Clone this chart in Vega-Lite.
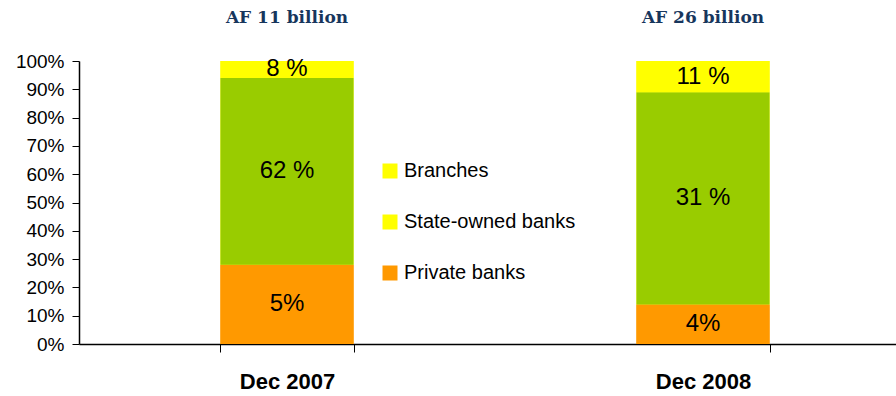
{
  "$schema": "https://vega.github.io/schema/vega-lite/v6.json",
  "width": 832,
  "height": 283,
  "autosize": {"type": "none"},
  "padding": {"left": 79, "top": 61, "right": 0, "bottom": 52},
  "background": "white",
  "config": {
    "view": {"stroke": null},
    "font": "Liberation Sans",
    "axis": {"labelOverlap": false, "labelBound": false},
    "axisY": {
      "title": null,
      "labelOverlap": false,
      "labelFontSize": 19,
      "labelColor": "black",
      "grid": false,
      "tickSize": 7,
      "tickColor": "black",
      "domainColor": "black",
      "domainWidth": 1.5,
      "labelPadding": 8
    }
  },
  "datasets": {
    "shares": [
      {"date": "Dec 2007", "sector": "Private banks", "share": 28, "label": "5%", "ord": 1},
      {"date": "Dec 2007", "sector": "State-owned banks", "share": 66, "label": "62  %", "ord": 2},
      {"date": "Dec 2007", "sector": "Branches", "share": 6, "label": "8 %", "ord": 3},
      {"date": "Dec 2008", "sector": "Private banks", "share": 14, "label": "4%", "ord": 1},
      {"date": "Dec 2008", "sector": "State-owned banks", "share": 75, "label": "31 %", "ord": 2},
      {"date": "Dec 2008", "sector": "Branches", "share": 11, "label": "11  %", "ord": 3}
    ],
    "totals": [
      {"date": "Dec 2007", "total": "AF 11 billion"},
      {"date": "Dec 2008", "total": "AF 26 billion"}
    ]
  },
  "encoding": {
    "x": {
      "field": "date",
      "type": "nominal",
      "scale": {"paddingInner": 0.68, "paddingOuter": 0.34},
      "axis": {
        "title": null,
        "labelAngle": 0,
        "labelFontSize": 22,
        "labelFontWeight": "bold",
        "labelColor": "black",
        "labelPadding": 19,
        "tickBand": "extent",
        "tickSize": 8,
        "tickColor": "black",
        "domainColor": "black",
        "domainWidth": 1.5
      }
    }
  },
  "layer": [
    {
      "data": {"name": "shares"},
      "mark": {"type": "bar"},
      "encoding": {
        "y": {
          "field": "share",
          "type": "quantitative",
          "stack": "zero",
          "scale": {"domain": [0, 100]},
          "axis": {"values": [0, 10, 20, 30, 40, 50, 60, 70, 80, 90, 100], "labelExpr": "datum.value + '%'", "labelOverlap": false, "title": null}
        },
        "fill": {
          "field": "sector",
          "type": "nominal",
          "scale": {
            "domain": ["Branches", "State-owned banks", "Private banks"],
            "range": ["#FFFF00", "#FFFF00", "#FF9900"]
          },
          "legend": {
            "title": null,
            "orient": "none",
            "legendX": 301,
            "legendY": 100,
            "labelFontSize": 20,
            "labelColor": "black",
            "labelLimit": 0,
            "symbolType": "square",
            "symbolSize": 225,
            "symbolStrokeWidth": 0,
            "rowPadding": 31,
            "labelOffset": 4
          }
        },
        "order": {"field": "ord", "type": "quantitative"}
      }
    },
    {
      "data": {"name": "shares"},
      "mark": {"type": "bar"},
      "encoding": {
        "y": {
          "field": "share",
          "type": "quantitative",
          "stack": "zero",
          "axis": {"values": [0, 10, 20, 30, 40, 50, 60, 70, 80, 90, 100], "labelExpr": "datum.value + '%'", "labelOverlap": false, "title": null}
        },
        "color": {
          "field": "sector",
          "type": "nominal",
          "scale": {
            "domain": ["Branches", "State-owned banks", "Private banks"],
            "range": ["#FFFF00", "#99CC00", "#FF9900"]
          },
          "legend": null
        },
        "order": {"field": "ord", "type": "quantitative"}
      }
    },
    {
      "data": {"name": "shares"},
      "transform": [
        {"stack": "share", "groupby": ["date"], "sort": [{"field": "ord"}], "as": ["y0", "y1"]},
        {"calculate": "(datum.y0 + datum.y1) / 2", "as": "ymid"}
      ],
      "mark": {"type": "text", "fontSize": 24, "color": "black", "baseline": "middle"},
      "encoding": {
        "y": {
          "field": "ymid",
          "type": "quantitative",
          "axis": {"values": [0, 10, 20, 30, 40, 50, 60, 70, 80, 90, 100], "labelExpr": "datum.value + '%'", "labelOverlap": false, "title": null}
        },
        "text": {"field": "label"}
      }
    },
    {
      "data": {"name": "totals"},
      "mark": {
        "type": "text",
        "font": "DejaVu Serif",
        "fontWeight": "bold",
        "fontSize": 17,
        "color": "#17365D",
        "baseline": "middle",
        "dy": -43
      },
      "encoding": {
        "y": {
          "datum": 100,
          "type": "quantitative",
          "axis": {"values": [0, 10, 20, 30, 40, 50, 60, 70, 80, 90, 100], "labelExpr": "datum.value + '%'", "labelOverlap": false, "title": null}
        },
        "text": {"field": "total"}
      }
    }
  ]
}
